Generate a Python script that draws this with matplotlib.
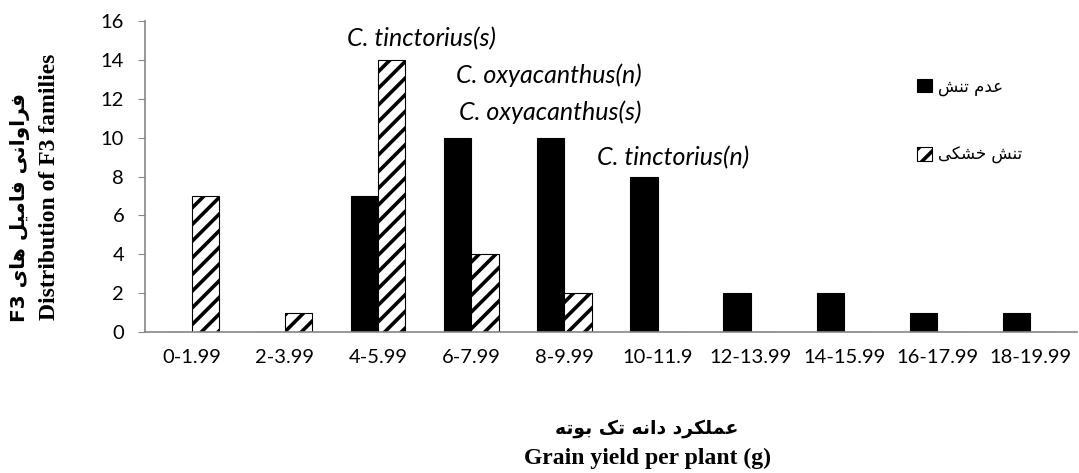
import matplotlib
matplotlib.use('Agg')
from matplotlib import pyplot as plt
import numpy as np

# data
categories = ['0-1.99', '2-3.99', '4-5.99', '6-7.99', '8-9.99', '10-11.9',
              '12-13.99', '14-15.99', '16-17.99', '18-19.99']
no_stress = [0, 0, 7, 10, 10, 8, 2, 2, 1, 1]
drought = [7, 1, 14, 4, 2, 0, 0, 0, 0, 0]
y_ticks = [0, 2, 4, 6, 8, 10, 12, 14, 16]

# species notes (text, x in category units, y in frequency units)
notes = [('C. tinctorius(s)', 2.47, 15.1),
         ('C. oxyacanthus(n)', 3.83, 13.2),
         ('C. oxyacanthus(s)', 3.85, 11.3),
         ('C. tinctorius(n)', 5.17, 8.95)]

# Persian strings, written in shaped visual order (matplotlib does no bidi shaping)
fa_no_stress = '\ufeb6\ufee8\ufe97 \ufee1\ufeaa\ufecb'          # عدم تنش
fa_drought = '\ufef0\ufb91\ufeb8\ufea7 \ufeb6\ufee8\ufe97'       # تنش خشکی
fa_ylabel = ('F3 \ufeef\ufe8e\ufeeb \ufede\ufef4\ufee3\ufe8e\ufed3 '
             '\ufef0\ufee7\ufe8d\ufeed\ufe8d\ufeae\ufed3')        # فراوانی فامیل های F3
fa_xlabel = ('\ufeea\ufe97\ufeee\ufe91 \ufb8f\ufe97 \ufeea\ufee7\ufe8d\ufea9 '
             '\ufea9\ufeae\ufb91\ufee0\ufee4\ufecb')              # عملکرد دانه تک بوته


def main():
    plt.rcParams['hatch.linewidth'] = 2.6
    fig = plt.figure(figsize=(10.79, 4.73), dpi=100)
    ax = fig.add_axes([145 / 1079, 1 - 332 / 473, 932 / 1079, 311 / 473])

    x = np.arange(len(categories))
    w = 0.295
    b1 = ax.bar(x - w / 2, no_stress, w, color='black', edgecolor='black',
                linewidth=0.8, label=fa_no_stress)
    b2 = ax.bar(x + w / 2, drought, w, color='white', edgecolor='black',
                linewidth=0.8, hatch='//', label=fa_drought)

    ax.set_xlim(-0.5, len(categories) - 0.5)
    ax.set_ylim(0, 16)
    ax.set_yticks(y_ticks)
    ax.set_xticks(x)
    ax.set_xticklabels(categories, family='Lato', fontsize=14.5)
    ax.set_yticklabels([str(t) for t in y_ticks], family='Lato', fontsize=14.5)
    ax.tick_params(axis='x', length=0, pad=12)
    ax.tick_params(axis='y', length=5, color='#868686', pad=10)
    for s in ['top', 'right']:
        ax.spines[s].set_visible(False)
    for s in ['left', 'bottom']:
        ax.spines[s].set_color('#868686')
        ax.spines[s].set_linewidth(1.2)

    for txt, nx, ny in notes:
        ax.text(nx, ny, txt, ha='center', va='center', family='Lato',
                style='italic', fontsize=18)

    ax.legend(handles=[b1, b2], loc='upper left', frameon=False,
              bbox_to_anchor=(909 / 1079, 1 - 69 / 473),
              bbox_transform=fig.transFigure, borderpad=0,
              handlelength=0.85, handleheight=0.85, handletextpad=0.4,
              labelspacing=3.0, prop={'family': 'DejaVu Sans', 'size': 12})

    # axis titles (Persian line + English line)
    fig.text(20 / 1079, 1 - 207 / 473, fa_ylabel, rotation=90, ha='center',
             va='center', family='DejaVu Sans', weight='bold', fontsize=14.5)
    fig.text(50 / 1079, 1 - 187 / 473, 'Distribution of F3 families',
             rotation=90, ha='center', va='center', family='Liberation Serif',
             weight='bold', fontsize=17)
    fig.text(647 / 1079, 1 - 428 / 473, fa_xlabel, ha='center', va='center',
             family='DejaVu Sans', weight='bold', fontsize=13.5)
    fig.text(647 / 1079, 1 - 458 / 473, 'Grain yield per plant (g)',
             ha='center', va='center', family='Liberation Serif',
             weight='bold', fontsize=17)

    fig.savefig('out.png', dpi=100)


if __name__ == '__main__':
    main()
